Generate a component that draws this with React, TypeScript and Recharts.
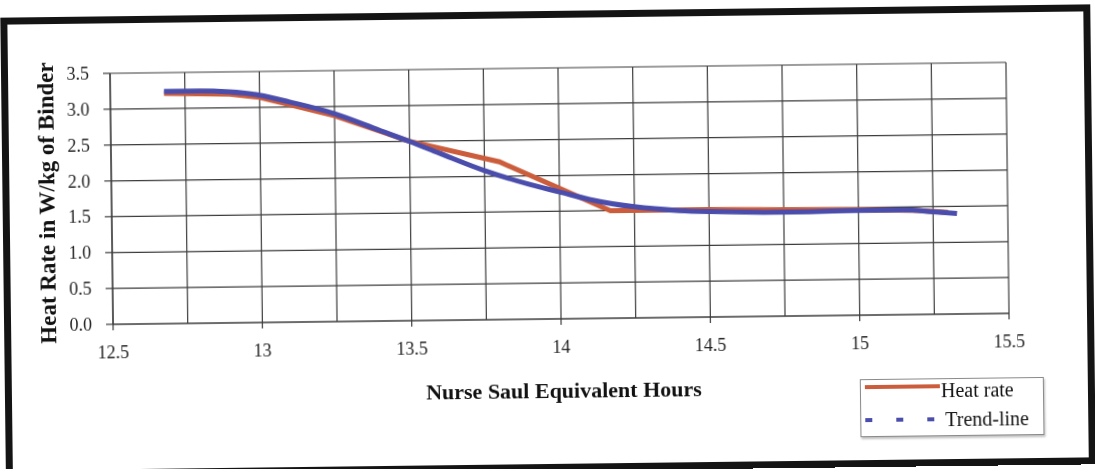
import { LineChart, Line, XAxis, YAxis, CartesianGrid } from "recharts"

// measured heat rate (W/kg of binder) against Nurse-Saul equivalent hours
const heatHours = [12.68, 12.9, 13.0, 13.25, 13.5, 13.8, 14.17, 14.5, 14.8, 15.0, 15.2, 15.3]
const heatValues = [3.21, 3.19, 3.14, 2.87, 2.5, 2.2, 1.5, 1.5, 1.48, 1.47, 1.45, 1.42]

// fitted trend
const trendHours = [12.68, 12.8, 12.9, 13.0, 13.1, 13.25, 13.4, 13.5, 13.6, 13.75, 13.9, 14.0, 14.1, 14.25, 14.4, 14.5, 14.75, 15.0, 15.15, 15.25, 15.33]
const trendValues = [3.24, 3.24, 3.22, 3.17, 3.07, 2.9, 2.66, 2.5, 2.33, 2.08, 1.88, 1.77, 1.66, 1.55, 1.49, 1.47, 1.45, 1.46, 1.46, 1.43, 1.4]

const xTicks = [12.5, 12.75, 13, 13.25, 13.5, 13.75, 14, 14.25, 14.5, 14.75, 15, 15.25, 15.5]
const yTicks = [0, 0.5, 1, 1.5, 2, 2.5, 3, 3.5]

const heatData = heatHours.map((x, i) => ({ x, y: heatValues[i] }))
const trendData = trendHours.map((x, i) => ({ x, y: trendValues[i] }))

const FONT = '"Liberation Serif", "Times New Roman", serif'
const GRID = "#3c3c3c"
const HEAT = "#cc5d3c"
const TREND = "#4a4dab"

const XTick = (props: any) => {
  const { x, y, payload } = props
  const v = payload.value as number
  // labels only on the half hours, grid lines on every quarter
  if (Math.abs(v * 2 - Math.round(v * 2)) > 1e-6) return <g />
  return (
    <g>
      <line x1={x} x2={x} y1={y} y2={y + 6} stroke={GRID} strokeWidth={1.2} />
      <text x={x} y={y + 28} textAnchor="middle" dominantBaseline="central" fontFamily={FONT} fontSize={18} fill="#222">
        {v}
      </text>
    </g>
  )
}

const YTick = (props: any) => {
  const { x, y, payload } = props
  return (
    <g>
      <line x1={x - 7} x2={x} y1={y} y2={y} stroke={GRID} strokeWidth={1.2} />
      <text x={x - 21} y={y} textAnchor="end" dominantBaseline="central" fontFamily={FONT} fontSize={18} fill="#222">
        {(payload.value as number).toFixed(1)}
      </text>
    </g>
  )
}

export default function App() {
  return (
    <div
      style={{
        position: "fixed",
        left: 0,
        top: 0,
        width: 1095,
        height: 469,
        background: "#fff",
        transform: "rotate(-0.7deg)",
        fontFamily: FONT,
      }}
    >
      <div
        style={{
          position: "absolute",
          left: 3,
          top: 11,
          width: 1090,
          height: 460,
          boxSizing: "border-box",
          border: "7px solid #141414",
        }}
      />
      <LineChart
        width={1095}
        height={469}
        margin={{ top: 68, right: 87, left: 0, bottom: 120 }}
        style={{ position: "absolute", left: 0, top: 0 }}
      >
        <CartesianGrid stroke={GRID} strokeWidth={1.2} />
        <XAxis
          type="number"
          dataKey="x"
          domain={[12.5, 15.5]}
          ticks={xTicks}
          interval={0}
          height={30}
          tickSize={0}
          tickMargin={0}
          tick={<XTick />}
          axisLine={{ stroke: GRID, strokeWidth: 1.2 }}
          tickLine={false}
        />
        <YAxis
          type="number"
          dataKey="y"
          domain={[0, 3.5]}
          ticks={yTicks}
          interval={0}
          width={112}
          tickSize={0}
          tickMargin={0}
          tick={<YTick />}
          axisLine={{ stroke: GRID, strokeWidth: 1.2 }}
          tickLine={false}
        />
        <Line
          data={heatData}
          dataKey="y"
          type="linear"
          stroke={HEAT}
          strokeWidth={5}
          dot={false}
          isAnimationActive={false}
        />
        <Line
          data={trendData}
          dataKey="y"
          type="monotone"
          stroke={TREND}
          strokeWidth={5}
          dot={false}
          isAnimationActive={false}
        />
      </LineChart>

      {/* axis titles */}
      <div
        style={{
          position: "absolute",
          left: 48,
          top: 197,
          transform: "translate(-50%, -50%) rotate(-90deg)",
          whiteSpace: "nowrap",
          fontWeight: "bold",
          fontSize: 23,
          color: "#111",
        }}
      >
        Heat Rate in W/kg of Binder
      </div>
      <div
        style={{
          position: "absolute",
          left: 562,
          top: 391,
          transform: "translate(-50%, -50%)",
          whiteSpace: "nowrap",
          fontWeight: "bold",
          fontSize: 22,
          color: "#111",
        }}
      >
        Nurse Saul Equivalent Hours
      </div>

      {/* legend */}
      <div
        style={{
          position: "absolute",
          left: 858,
          top: 383,
          width: 184,
          height: 58,
          boxSizing: "border-box",
          border: "1px solid #8a8a8a",
          boxShadow: "1px 2px 2px rgba(0,0,0,0.25)",
          background: "#fff",
          fontSize: 20,
          color: "#111",
        }}
      >
        <svg width={80} height={58} style={{ position: "absolute", left: 0, top: 0 }}>
          <line x1={4} x2={79} y1={7} y2={7} stroke={HEAT} strokeWidth={4} />
          <line x1={4} x2={79} y1={40} y2={40} stroke={TREND} strokeWidth={4} strokeDasharray="7 24" />
        </svg>
        <div style={{ position: "absolute", left: 80, top: 0, lineHeight: "22px" }}>Heat rate</div>
        <div style={{ position: "absolute", left: 84, top: 29, lineHeight: "22px" }}>Trend-line</div>
      </div>
    </div>
  )
}
